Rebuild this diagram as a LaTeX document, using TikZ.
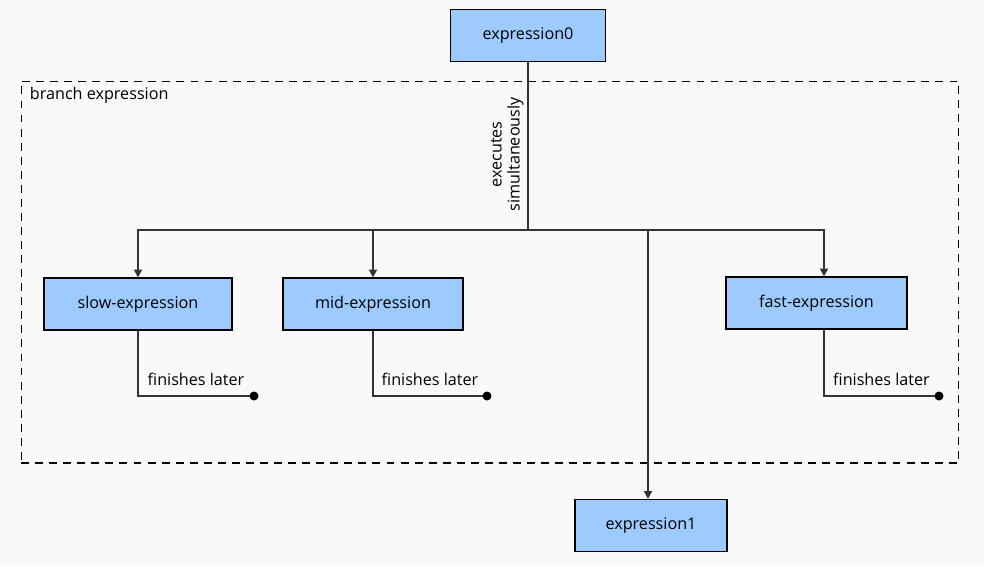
\documentclass[tikz,border=0pt]{standalone}
\usepackage{fontspec}
\setmainfont{Open Sans}
\usetikzlibrary{arrows.meta,positioning}
\definecolor{boxblue}{HTML}{9DCBFE}
\definecolor{paper}{HTML}{F9F9F9}
\definecolor{wire}{HTML}{333333}

\begin{document}
\begin{tikzpicture}[x=0.02cm,y=-0.02cm,font=\fontsize{9.2}{10.2}\selectfont,
  expr/.style={draw=black,line width=0.6pt,fill=boxblue,minimum height=1.04cm,inner sep=0pt},
  wire/.style={draw=wire,line width=1.1pt},
  flow/.style={wire,-{Triangle[length=4.5pt,width=4.5pt]}},
  group/.style={draw=black,line width=0.6pt,dash pattern=on 4.5pt off 3.5pt,inner sep=0pt}]

  \useasboundingbox[fill=paper] (0,0) rectangle (984,566);

  \node[group,minimum width=18.76cm,minimum height=7.64cm] (branch) at (490,272) {};
  \node[anchor=north west,inner sep=0pt] at ([shift={(0.18cm,-0.13cm)}]branch.north west) {branch expression};

  \node[expr,minimum width=3.1cm] (expr0) at (528,35.5) {expression0};
  \node[expr,minimum width=3.76cm] (slow) at (138,304) {slow-expression};
  \node[expr,minimum width=3.6cm] (mid) at (373,304) {mid-expression};
  \node[expr,minimum width=3.62cm] (fast) at (816.5,303) {fast-expression};
  \node[expr,minimum width=3.04cm] (expr1) at (651,525.5) {expression1};

  \coordinate (split) at (528,230);
  \draw[wire] (expr0) -- node[pos=.55,rotate=90,above,inner sep=2pt,align=center]{executes\\simultaneously} (split);
  \draw[flow] (split) -| (slow);
  \draw[flow] (split) -| (mid);
  \draw[flow] (split) -| ([xshift=0.15cm]fast.north);
  \draw[flow] (split) -| ([xshift=-0.06cm]expr1.north);

  % ends that go nowhere
  \coordinate (slowend) at (254,396);
  \coordinate (midend) at (487,396);
  \coordinate (fastend) at (939,396);
  \draw[wire] (slow) |- node[pos=.75,above=2pt]{finishes later} (slowend);
  \draw[wire] (mid) |- node[pos=.75,above=2pt]{finishes later} (midend);
  \draw[wire] ([xshift=0.15cm]fast.south) |- node[pos=.75,above=2pt]{finishes later} (fastend);
  \fill (slowend) circle (0.09cm);
  \fill (midend) circle (0.09cm);
  \fill (fastend) circle (0.09cm);

\end{tikzpicture}
\end{document}
